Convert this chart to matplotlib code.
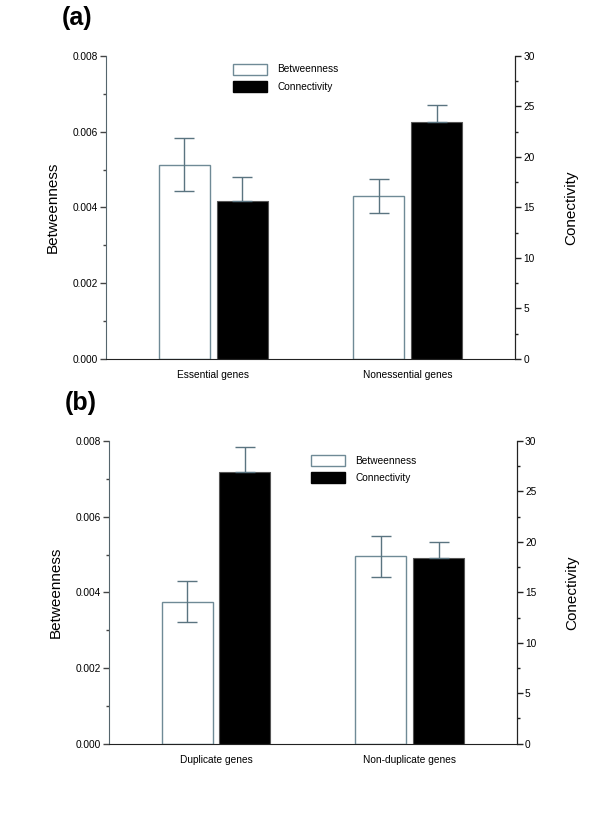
import matplotlib
matplotlib.use("Agg")
import matplotlib.pyplot as plt
import numpy as np
from matplotlib.patches import Patch
from matplotlib.ticker import MultipleLocator, FormatStrFormatter

plt.rcParams["font.family"] = ["Liberation Sans", "DejaVu Sans"]

# panel (a)
groups_a = ["Essential genes", "Nonessential genes"]
betw_a = [0.00513, 0.00430]
betw_err_a = [0.00070, 0.00044]
conn_a = [15.6, 23.5]
conn_err_a = [2.4, 1.65]

# panel (b)
groups_b = ["Duplicate genes", "Non-duplicate genes"]
betw_b = [0.00375, 0.00495]
betw_err_b = [0.00054, 0.00055]
conn_b = [26.9, 18.4]
conn_err_b = [2.5, 1.6]

EDGE = "#6f8a96"
ERR = "#5a7480"
FS = 7.3


def panel(rect, letter, groups, betw, betw_err, conn, conn_err, leg_anchor):
    ax = fig.add_axes(rect)
    ax2 = ax.twinx()
    x = np.arange(len(groups))
    w = 0.263
    off = 0.149

    ax.bar(x - off, betw, w, color="white", edgecolor=EDGE, linewidth=1.0,
           yerr=betw_err, error_kw=dict(ecolor=ERR, elinewidth=1.0, capsize=7, capthick=1.0))
    # lower half of the error bar disappears inside the black bar
    ax2.bar(x + off, conn, w, color="black", edgecolor="#555555", linewidth=0.8,
            yerr=[np.zeros(len(conn)), conn_err],
            error_kw=dict(ecolor=ERR, elinewidth=1.0, capsize=7, capthick=1.0))

    ax.set_xlim(-0.553, 1.553)
    ax.set_ylim(0, 0.008)
    ax2.set_ylim(0, 30)

    ax.set_xticks(x)
    ax.set_xticklabels(groups, fontsize=FS)
    ax.tick_params(axis="x", length=0, pad=8)

    ax.yaxis.set_major_locator(MultipleLocator(0.002))
    ax.yaxis.set_minor_locator(MultipleLocator(0.001))
    ax.yaxis.set_major_formatter(FormatStrFormatter("%.3f"))
    ax.tick_params(axis="y", which="major", labelsize=FS, length=4, width=1.0,
                   color="#444444", pad=2, direction="out")
    ax.tick_params(axis="y", which="minor", length=2, width=1.0, color="#444444")

    ax2.yaxis.set_major_locator(MultipleLocator(5))
    ax2.yaxis.set_minor_locator(MultipleLocator(2.5))
    ax2.tick_params(axis="y", which="major", labelsize=FS, length=4, width=1.0,
                    color="#222222", pad=2, direction="out")
    ax2.tick_params(axis="y", which="minor", length=2, width=1.0, color="#222222")

    for a in (ax, ax2):
        a.spines["top"].set_visible(False)
    ax.spines["left"].set_color("#55656d")
    ax.spines["bottom"].set_color("#222222")
    ax2.spines["right"].set_color("#222222")
    ax2.spines["left"].set_visible(False)
    ax2.spines["bottom"].set_visible(False)

    ax.set_ylabel("Betweenness", fontsize=11, labelpad=9)
    ax2.set_ylabel("Conectivity", fontsize=11, labelpad=21)

    handles = [Patch(facecolor="white", edgecolor=EDGE, linewidth=1.0),
               Patch(facecolor="black", edgecolor="black")]
    ax2.legend(handles, ["Betweenness", "Connectivity"], loc="upper left",
               bbox_to_anchor=leg_anchor, frameon=False, fontsize=FS,
               handlelength=3.4, handleheight=1.3, handletextpad=1.0,
               labelspacing=0.65, borderpad=0, borderaxespad=0)

    fig.text(rect[0] - 0.073, rect[1] + rect[3] + 0.047, letter, fontsize=18,
             fontweight="bold", ha="left", va="center")


fig = plt.figure(figsize=(6, 8.14), dpi=100)
panel([0.1767, 0.559, 0.6817, 0.3722], "(a)", groups_a, betw_a, betw_err_a,
      conn_a, conn_err_a, (0.31, 0.975))
panel([0.1817, 0.0864, 0.6795, 0.3718], "(b)", groups_b, betw_b, betw_err_b,
      conn_b, conn_err_b, (0.495, 0.955))

fig.savefig("out.png", dpi=100, facecolor="white")
plt.close(fig)
